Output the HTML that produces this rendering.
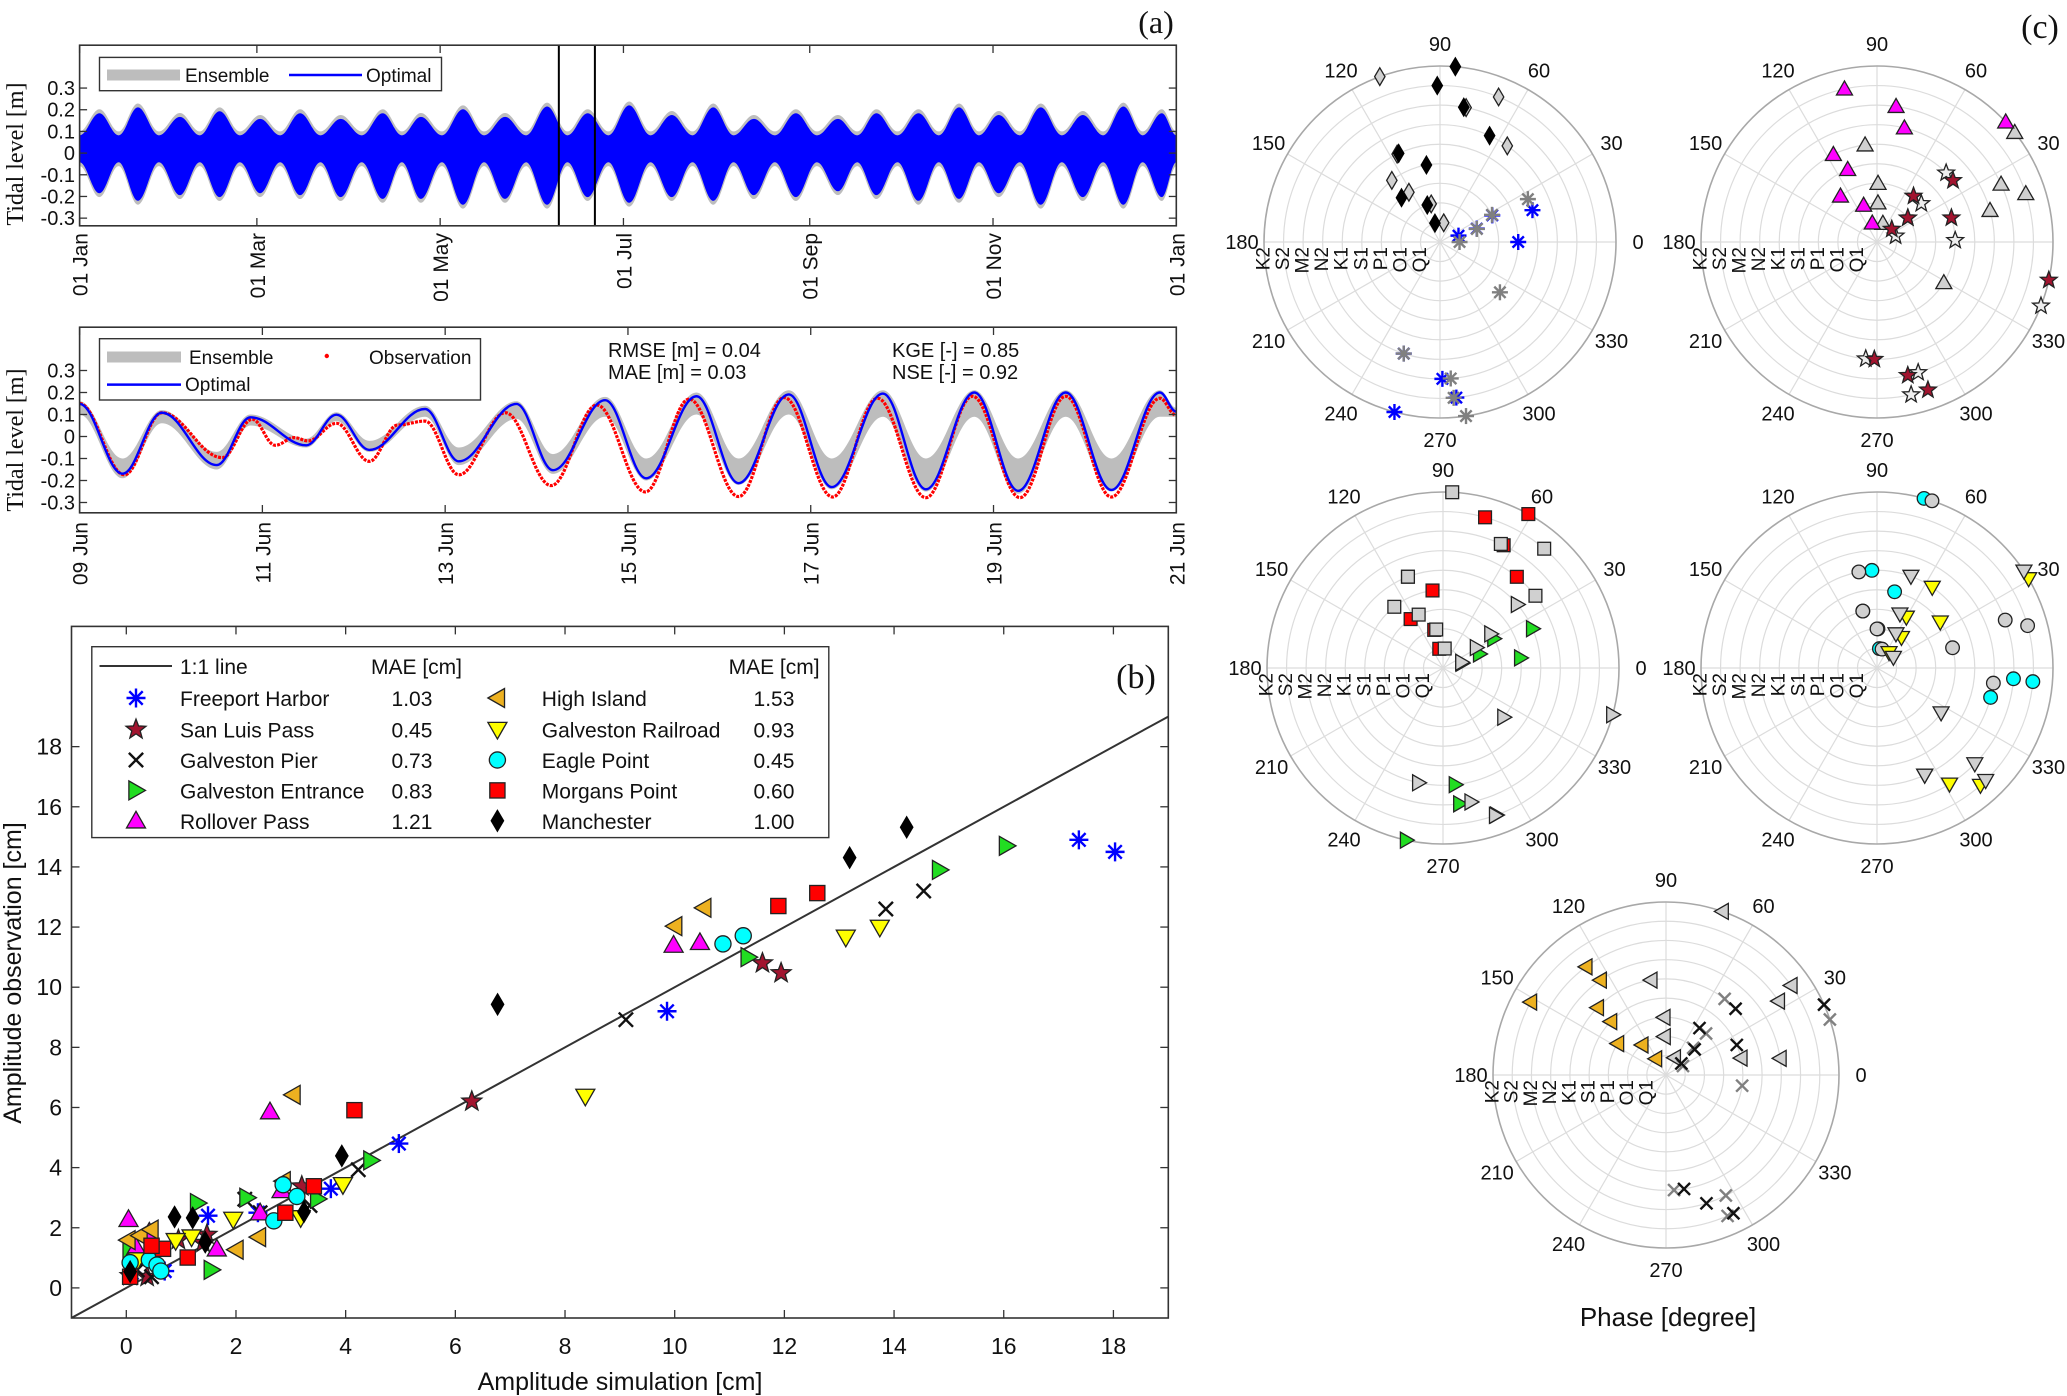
<!DOCTYPE html>
<html><head><meta charset="utf-8"><style>
html,body{margin:0;padding:0;background:#fff;}
svg{display:block;font-family:"Liberation Sans",Arial,sans-serif;}
</style></head><body>
<svg id="fig" xmlns="http://www.w3.org/2000/svg" width="2067" height="1396" viewBox="0 0 2067 1396">
<defs>
<clipPath id="clipA"><rect x="79.6" y="45.2" width="1096.7" height="180.6"/></clipPath>
<clipPath id="clipM"><rect x="79.6" y="327.2" width="1096.7" height="185.6"/></clipPath>
<clipPath id="clipB"><rect x="71.5" y="626.4" width="1096.8" height="691.6"/></clipPath>
</defs>
</svg>
<script>
// ---------- DATA: panel (a) top, yearly envelope (lobe peaks) ----------
const lobeDay=[6.6,19.4,33.4,46.6,60.1,73.4,86.9,100.9,113.6,127.6,141.6,155.6,169.1,182.9,197.1,210.9,224.4,238.4,252.4,265.2,279.2,292.7,305.9,319.9,333.9,347.4,360.2];
const lobeMax=[0.202,0.229,0.185,0.211,0.176,0.202,0.176,0.202,0.185,0.22,0.185,0.233,0.202,0.238,0.194,0.229,0.176,0.202,0.176,0.202,0.202,0.229,0.194,0.229,0.194,0.233,0.202];
const lobeMin=[-0.203,-0.238,-0.212,-0.221,-0.203,-0.212,-0.221,-0.229,-0.229,-0.256,-0.229,-0.256,-0.221,-0.247,-0.221,-0.238,-0.212,-0.221,-0.194,-0.212,-0.238,-0.229,-0.203,-0.256,-0.221,-0.256,-0.221];
const neckMax=0.1, neckMin=-0.06;
const yearTickDays=[0,59,120,181,243,304,365];
const yearTickLabels=["01 Jan","01 Mar","01 May","01 Jul","01 Sep","01 Nov","01 Jan"];
const zoomWindow=[159,171];
const levelTicks=[0.3,0.2,0.1,0,-0.1,-0.2,-0.3];
// ---------- DATA: panel (a) bottom, Jun 9 - Jun 21 ----------
const tOpt=[9.0,9.47,9.9,10.5,10.87,11.48,11.81,12.17,12.78,13.15,13.78,14.18,14.75,15.2,15.75,16.21,16.76,17.23,17.79,18.26,18.79,19.27,19.79,20.29,20.82,21.0];
const vOpt=[0.148,-0.169,0.108,-0.13,0.087,-0.04,0.099,-0.061,0.125,-0.113,0.148,-0.153,0.165,-0.19,0.183,-0.212,0.191,-0.23,0.195,-0.24,0.2,-0.247,0.2,-0.243,0.2,0.113];
const ensUp=[0.16,-0.1,0.12,-0.07,0.1,-0.01,0.11,-0.02,0.14,-0.05,0.16,-0.08,0.18,-0.1,0.2,-0.1,0.21,-0.1,0.21,-0.1,0.21,-0.1,0.21,-0.1,0.21,0.13];
const ensLo=[0.1,-0.19,0.06,-0.15,0.05,-0.05,0.07,-0.07,0.09,-0.13,0.08,-0.17,0.09,-0.2,0.1,-0.22,0.1,-0.24,0.09,-0.25,0.09,-0.26,0.09,-0.25,0.09,0.09];
const tObs=[9.0,9.49,9.9,10.56,10.89,11.14,11.35,11.5,11.81,12.17,12.48,12.78,13.15,13.66,14.16,14.66,15.19,15.67,16.21,16.71,17.24,17.73,18.26,18.77,19.29,19.79,20.29,20.82,21.0];
const vObs=[0.15,-0.174,0.108,-0.096,0.078,-0.04,-0.005,-0.02,0.06,-0.113,0.052,0.07,-0.174,0.108,-0.223,0.143,-0.252,0.17,-0.273,0.177,-0.275,0.174,-0.278,0.183,-0.278,0.183,-0.275,0.174,0.096];
const junTickDays=[9,11,13,15,17,19,21];
const junTickLabels=["09 Jun","11 Jun","13 Jun","15 Jun","17 Jun","19 Jun","21 Jun"];
// ---------- DATA: panel (b) scatter ----------
const stationNames=["Freeport Harbor","San Luis Pass","Galveston Pier","Galveston Entrance","Rollover Pass","High Island","Galveston Railroad","Eagle Point","Morgans Point","Manchester"];
const stationMAE=["1.03","0.45","0.73","0.83","1.21","1.53","0.93","0.45","0.60","1.00"];
const simFreeport=[17.37,18.03,9.86,4.97,3.73,1.49,2.4,0.7,0.1];
const obsFreeport=[14.9,14.5,9.2,4.8,3.3,2.4,2.5,0.56,0.5];
const simSanLuis=[6.3,11.6,11.94,0.95,1.47,0.38,3.2,1.4,0.07];
const obsSanLuis=[6.2,10.8,10.47,1.6,1.77,0.37,3.38,1.5,0.4];
const simPier=[14.54,13.85,9.11,4.23,3.35,2.44,0.2,0.46,2.16];
const obsPier=[13.2,12.6,8.92,3.93,2.74,2.5,0.6,0.37,2.95];
const simEntrance=[16.05,14.83,11.34,4.46,2.2,3.49,1.3,1.55,0.07];
const obsEntrance=[14.7,13.9,11.0,4.24,3.0,2.96,2.82,0.6,1.27];
const simRollover=[9.98,10.46,2.62,0.04,2.44,1.65,0.18,2.83,0.42];
const obsRollover=[11.4,11.49,5.86,2.28,2.5,1.3,1.35,3.24,1.86];
const simHigh=[10.0,10.53,3.04,0.03,0.25,0.45,2.0,2.41,2.86];
const obsHigh=[12.03,12.64,6.42,1.59,1.74,1.94,1.27,1.69,3.55];
const simRail=[8.37,13.12,13.74,3.95,1.95,1.19,3.18,0.21,0.9];
const obsRail=[6.37,11.66,11.99,3.43,2.28,1.69,2.33,0.93,1.57];
const simEagle=[10.88,11.25,2.86,3.11,2.69,0.07,0.42,0.56,0.63];
const obsEagle=[11.44,11.71,3.43,3.04,2.23,0.84,0.93,0.76,0.56];
const simMorgans=[11.89,12.6,4.16,3.42,2.9,1.12,0.67,0.46,0.07];
const obsMorgans=[12.7,13.13,5.91,3.38,2.5,1.01,1.3,1.4,0.37];
const simManch=[14.23,13.19,6.77,3.93,3.24,0.88,1.21,1.44,0.07];
const obsManch=[15.32,14.31,9.43,4.39,2.53,2.36,2.33,1.52,0.54];
const ampTicks=[0,2,4,6,8,10,12,14,16,18];
// ---------- DATA: panel (c) polar phases (ring 1..9 = Q1..K2) ----------
const constituents=["Q1","O1","P1","S1","K1","N2","M2","S2","K2"];
const phaseTicks=[0,30,60,90,120,150,180,210,240,270,300,330];
const manObs=[105,109,131,100,115,65,80,91,85];
const manSim=[79,103,122,128,116,55,79,68,110];
const freObs=[19,20,27,0,19,252,271,276,255];
const freSim=[0,19.5,27.6,320,26,252,274.5,275,278.5];
const rolObs=[104,110,128.5,112,116.5,76.5,82,102,43];
const rolSim=[72.5,88.6,89,328.7,97,15.6,25,18,38.5];
const slpObs=[41,38,51.5,18,39,268.7,283,289,347.5];
const slpSim=[18,38,41,1.2,45,264.5,287.5,282.6,338.7];
const morObs=[101,103,123.5,97.7,111,51,63.7,74.4,61];
const morSim=[85,100,114.5,128.5,111,38,65,49.7,87];
const entObs=[14,21,30,7.4,23.7,276,277,290,258];
const entSim=[17,31.5,35.5,321,40.5,258,281.8,289.6,344.6];
const eagObs=[83,88.6,104,77,93,345.5,355.5,355,74.5];
const eagSim=[75,90,104,15,100.7,352.6,20.5,15.7,71.8];
const rrObs=[52,51.3,60,36,55.6,294,302,311.4,30.5];
const rrSim=[33,61,67,325,69.7,294,315.6,314,33.4];
const hiObs=[122.6,128.7,147,136,135.5,124.7,126.5,151.7,null];
const hiSim=[64,92.6,92,12.7,99,8.3,33.3,35.6,71];
const gpObs=[37,41.8,54.5,23,43.6,279,287.5,296,24];
const gpSim=[28,45,46,352,52.4,274,296.4,293.6,18.7];

// ---------- helpers ----------
const NS="http://www.w3.org/2000/svg";
const svg=document.getElementById('fig');
function mk(tag,attrs,parent){const e=document.createElementNS(NS,tag);for(const k in attrs)e.setAttribute(k,attrs[k]);(parent||svg).appendChild(e);return e;}
function txt(s,x,y,size,attrs,parent){const e=mk('text',Object.assign({x:x,y:y,'font-size':size,fill:'#111'},attrs||{}),parent);e.textContent=s;return e;}
function smooth(pts,start){let d=start?('M'+pts[0][0]+','+pts[0][1]):('L'+pts[0][0]+','+pts[0][1]);
 for(let i=1;i<pts.length;i++){const [x0,y0]=pts[i-1],[x1,y1]=pts[i];const dx=(x1-x0)*0.37;d+=' C'+(x0+dx)+','+y0+' '+(x1-dx)+','+y1+' '+x1+','+y1;}return d;}

function marker(type,x,y,s,fill,stroke,g){const h=s/2;let e;
 if(type==='ast'){e=mk('g',{},g);[0,45,90,135].forEach(a=>{const r=a*Math.PI/180;mk('line',{x1:x-h*Math.cos(r),y1:y-h*Math.sin(r),x2:x+h*Math.cos(r),y2:y+h*Math.sin(r),stroke:fill,'stroke-width':2.4},e);});}
 else if(type==='x'){e=mk('g',{},g);mk('line',{x1:x-h*0.75,y1:y-h*0.75,x2:x+h*0.75,y2:y+h*0.75,stroke:fill,'stroke-width':2.4},e);mk('line',{x1:x-h*0.75,y1:y+h*0.75,x2:x+h*0.75,y2:y-h*0.75,stroke:fill,'stroke-width':2.4},e);}
 else if(type==='o'){e=mk('circle',{cx:x,cy:y,r:h*0.85,fill:fill,stroke:stroke,'stroke-width':1.3},g);}
 else if(type==='sq'){e=mk('rect',{x:x-h*0.8,y:y-h*0.8,width:s*0.8,height:s*0.8,fill:fill,stroke:stroke,'stroke-width':1.3},g);}
 else{let p;
  if(type==='d')p=[[0,-h*1.1],[h*0.65,0],[0,h*1.1],[-h*0.65,0]];
  else if(type==='tu')p=[[0,-h],[h,h*0.75],[-h,h*0.75]];
  else if(type==='td')p=[[0,h],[h,-h*0.75],[-h,-h*0.75]];
  else if(type==='tl')p=[[-h,0],[h*0.75,-h],[h*0.75,h]];
  else if(type==='tr')p=[[h,0],[-h*0.75,-h],[-h*0.75,h]];
  else if(type==='star'){p=[];for(let i=0;i<10;i++){const r=(i%2?0.42:1)*h*1.1,a=-Math.PI/2+i*Math.PI/5;p.push([r*Math.cos(a),r*Math.sin(a)]);}}
  e=mk('polygon',{points:p.map(q=>(x+q[0])+','+(y+q[1])).join(' '),fill:fill,stroke:stroke,'stroke-width':1.3},g);}
 return e;}

// ================= PANEL (a) TOP =================
const AL=79.6,AR=1176.3,AW=AR-AL;
const xa=d=>AL+d/365*AW, ya=v=>153.1-v*216.8;
const gA=mk('g',{});


function envPts(off,fromMax){const pts=[];const nk=fromMax?neckMax+off:neckMin-off;
 pts.push([xa(0),ya(nk)]);
 for(let i=0;i<lobeDay.length;i++){const v=fromMax?lobeMax[i]+off:lobeMin[i]-off;
  if(i>0)pts.push([xa((lobeDay[i-1]+lobeDay[i])/2),ya(nk)]);
  pts.push([xa(lobeDay[i]),ya(v)]);}
 pts.push([xa(365),ya(nk)]);return pts;}
function envArea(off,color,name){const up=envPts(off,true),lo=envPts(off,false).reverse();
 const p=mk('path',{d:smooth(up,true)+' '+smooth(lo,false)+' Z',fill:color,'clip-path':'url(#clipA)'},gA);
 
 }
envArea(0,'#bdbdbd','ensemble-band-year');
envArea(-0.018,'#0000ff','optimal-series-year');
zoomWindow.forEach(d=>{const l=mk('line',{x1:xa(d)+1.5,x2:xa(d)+1.5,y1:45.2,y2:225.8,stroke:'#000','stroke-width':2},gA);
 
 });
mk('rect',{x:AL,y:45.2,width:AW,height:180.6,fill:'none',stroke:'#333','stroke-width':1.6},gA);
levelTicks.forEach(v=>{const y=ya(v);mk('line',{x1:AL,x2:AL+7.5,y1:y,y2:y,stroke:'#333','stroke-width':1.3},gA);mk('line',{x1:AR,x2:AR-7.5,y1:y,y2:y,stroke:'#333','stroke-width':1.3},gA);
 const t=txt(v===0?'0':v.toFixed(1),75,y+7,20,{'text-anchor':'end'},gA);
 
 });
yearTickDays.forEach((d,i)=>{const x=xa(d);mk('line',{x1:x,x2:x,y1:225.8,y2:218,stroke:'#333','stroke-width':1.3},gA);mk('line',{x1:x,x2:x,y1:45.2,y2:53,stroke:'#333','stroke-width':1.3},gA);
 const t=txt(yearTickLabels[i],0,0,21,{'text-anchor':'end',transform:'translate('+(x+8)+',233) rotate(-90)'},gA);
 
 });
{const t=txt('Tidal level [m]',0,0,24,{'text-anchor':'middle','font-family':'Liberation Serif, serif',transform:'translate(23,154) rotate(-90)'},gA);
 
 }
{const lg=mk('g',{},gA);
 
 
 mk('rect',{x:99.5,y:57.4,width:342,height:33.3,fill:'#fff',stroke:'#333','stroke-width':1.4},lg);
 mk('line',{x1:107,x2:180,y1:75,y2:75,stroke:'#bdbdbd','stroke-width':11},lg);
 txt('Ensemble',185,82,19,{},lg);
 mk('line',{x1:289,x2:362,y1:75,y2:75,stroke:'#0000ff','stroke-width':2.5},lg);
 txt('Optimal',366,82,19,{},lg);}
{const t=txt('(a)',1156,33,32,{'text-anchor':'middle','font-family':'Liberation Serif, serif'});
 
 }

// ================= PANEL (a) BOTTOM =================
const xb=d=>AL+(d-9)/12*AW, yb=v=>436.5-v*220;
const gM=mk('g',{});


{const up=tOpt.map((t,i)=>[xb(t),yb(ensUp[i])]),lo=tOpt.map((t,i)=>[xb(t),yb(ensLo[i])]).reverse();
 const p=mk('path',{d:smooth(up,true)+' '+smooth(lo,false)+' Z',fill:'#bdbdbd','clip-path':'url(#clipM)'},gM);
 
 }
{const p=mk('path',{d:smooth(tObs.map((t,i)=>[xb(t),yb(vObs[i])]),true),fill:'none',stroke:'#ff0000','stroke-width':3.2,'stroke-dasharray':'3 1.2','clip-path':'url(#clipM)'},gM);
 
 }
{const p=mk('path',{d:smooth(tOpt.map((t,i)=>[xb(t),yb(vOpt[i])]),true),fill:'none',stroke:'#0000ff','stroke-width':2.4,'clip-path':'url(#clipM)'},gM);
 
 }
mk('rect',{x:AL,y:327.2,width:AW,height:185.6,fill:'none',stroke:'#333','stroke-width':1.6},gM);
levelTicks.forEach(v=>{const y=yb(v);mk('line',{x1:AL,x2:AL+7.5,y1:y,y2:y,stroke:'#333','stroke-width':1.3},gM);mk('line',{x1:AR,x2:AR-7.5,y1:y,y2:y,stroke:'#333','stroke-width':1.3},gM);
 const t=txt(v===0?'0':v.toFixed(1),75,y+7,20,{'text-anchor':'end'},gM);
 
 });
junTickDays.forEach((d,i)=>{const x=xb(d);mk('line',{x1:x,x2:x,y1:512.8,y2:505,stroke:'#333','stroke-width':1.3},gM);mk('line',{x1:x,x2:x,y1:327.2,y2:335,stroke:'#333','stroke-width':1.3},gM);
 const t=txt(junTickLabels[i],0,0,21,{'text-anchor':'end',transform:'translate('+(x+8)+',522) rotate(-90)'},gM);
 
 });
{const t=txt('Tidal level [m]',0,0,24,{'text-anchor':'middle','font-family':'Liberation Serif, serif',transform:'translate(23,440) rotate(-90)'},gM);
 
 }
{const lg=mk('g',{},gM);
 
 
 mk('rect',{x:99.5,y:338.7,width:381,height:61.3,fill:'#fff',stroke:'#333','stroke-width':1.4},lg);
 mk('line',{x1:107,x2:181,y1:357,y2:357,stroke:'#bdbdbd','stroke-width':11},lg);
 txt('Ensemble',189,364,19,{},lg);
 mk('circle',{cx:326.8,cy:356,r:2.2,fill:'#ff0000'},lg);
 txt('Observation',369,364,19,{},lg);
 mk('line',{x1:107,x2:181,y1:384.6,y2:384.6,stroke:'#0000ff','stroke-width':2.5},lg);
 txt('Optimal',185,391,19,{},lg);}
[['RMSE [m] = 0.04',608,357],['MAE [m] = 0.03',608,379],['KGE [-] = 0.85',892,357],['NSE [-] = 0.92',892,379]].forEach(a=>{
 const t=txt(a[0],a[1],a[2],20,{},gM);
 
 });

// ================= PANEL (b) =================
const xs=v=>126.3+v*54.84, ys=v=>1287.9-v*30.07;
const BL=71.5,BR=1168.3,BT=626.4,BB=1318;
const gB=mk('g',{});


{const l=mk('line',{x1:xs(-1),y1:ys(-1),x2:xs(19),y2:ys(19),stroke:'#333','stroke-width':2,'clip-path':'url(#clipB)'},gB);
 
 }
const series=[
 ['ast','#0000ff','#0000ff',simFreeport,obsFreeport],
 ['star','#a2142f','#222',simSanLuis,obsSanLuis],
 ['x','#111','#111',simPier,obsPier],
 ['tr','#22dd22','#222',simEntrance,obsEntrance],
 ['tu','#ff00ff','#222',simRollover,obsRollover],
 ['tl','#edb120','#222',simHigh,obsHigh],
 ['td','#ffff00','#222',simRail,obsRail],
 ['o','#00ffff','#222',simEagle,obsEagle],
 ['sq','#ff0000','#222',simMorgans,obsMorgans],
 ['d','#000','#000',simManch,obsManch]];
series.forEach((s,k)=>{s[3].forEach((v,i)=>{const e=marker(s[0],xs(v),ys(s[4][i]),19,s[1],s[2],gB);
 
 });});
mk('rect',{x:BL,y:BT,width:BR-BL,height:BB-BT,fill:'none',stroke:'#333','stroke-width':1.6},gB);
ampTicks.forEach(v=>{const x=xs(v),y=ys(v);
 mk('line',{x1:x,x2:x,y1:BB,y2:BB-8,stroke:'#333','stroke-width':1.3},gB);mk('line',{x1:x,x2:x,y1:BT,y2:BT+8,stroke:'#333','stroke-width':1.3},gB);
 mk('line',{x1:BL,x2:BL+8,y1:y,y2:y,stroke:'#333','stroke-width':1.3},gB);mk('line',{x1:BR,x2:BR-8,y1:y,y2:y,stroke:'#333','stroke-width':1.3},gB);
 const tx=txt(String(v),x,1354,23,{'text-anchor':'middle'},gB);
 
 
 const ty=txt(String(v),62,y+8,23,{'text-anchor':'end'},gB);
 
 });
{const t=txt('Amplitude simulation [cm]',620,1390,25,{'text-anchor':'middle'},gB);
 
 }
{const t=txt('Amplitude observation [cm]',0,0,25,{'text-anchor':'middle',transform:'translate(21,973) rotate(-90)'},gB);
 
 }
{const t=txt('(b)',1136,688,34,{'text-anchor':'middle','font-family':'Liberation Serif, serif'},gB);
 
 }
{const lg=mk('g',{},gB);
 
 
 mk('rect',{x:91.8,y:646.7,width:737,height:190.9,fill:'#fff',stroke:'#333','stroke-width':1.4},lg);
 mk('line',{x1:99.5,x2:172,y1:666,y2:666,stroke:'#333','stroke-width':2},lg);
 txt('1:1 line',180,674,21,{},lg);
 txt('MAE [cm]',371,674,21,{},lg);
 txt('MAE [cm]',728.6,674,21,{},lg);
 const rowsY=[698,729.5,760,790.4,820.8];
 series.forEach((s,k)=>{const col=k<5?0:1,r=k%5,y=rowsY[r];
  const e=marker(s[0],col?497.4:136,y,19,s[1],s[2],lg);
  
  
  const n=txt(stationNames[k],col?541.8:180,y+8,21,{},lg);
  
  
  const m=txt(stationMAE[k],col?794.4:432.4,y+8,21,{'text-anchor':'end'},lg);
  
  });}

// ================= PANEL (c) POLAR =================
function polar(cx,cy,R,name,sets){const g=mk('g',{});
 
 
 for(let k=1;k<=8;k++)mk('circle',{cx:cx,cy:cy,r:k*R/9,fill:'none',stroke:'#dcdcdc','stroke-width':1.2},g);
 phaseTicks.forEach(a=>{const r=a*Math.PI/180;mk('line',{x1:cx,y1:cy,x2:cx+R*Math.cos(r),y2:cy-R*Math.sin(r),stroke:'#dcdcdc','stroke-width':1.2},g);});
 mk('circle',{cx:cx,cy:cy,r:R,fill:'none',stroke:'#a8a8a8','stroke-width':1.6},g);
 phaseTicks.forEach(a=>{const r=a*Math.PI/180,rr=R+22;
  const t=txt(String(a),cx+rr*Math.cos(r),cy-rr*Math.sin(r)+7,20,{'text-anchor':'middle'},g);
  
  });
 constituents.forEach((c,i)=>{const x=cx-(i+1)*R/9;
  const t=txt(c,0,0,19,{'text-anchor':'end','dominant-baseline':'central',transform:'translate('+x+','+(cy+5)+') rotate(-90)'},g);
  
  });
 sets.forEach(s=>{s.data.forEach((ph,i)=>{if(ph===null)return;const r=(i+1)*R/9,a=ph*Math.PI/180;
  const e=marker(s.type,cx+r*Math.cos(a),cy-r*Math.sin(a),s.size||16,s.fill,s.stroke,g);
  
  });});
 return g;}
const G='#d0d0d0';
polar(1440,242,176,'polar-manchester-freeport',[
 {type:'d',fill:G,stroke:'#222',data:manSim,name:'manchester-sim-point'},
 {type:'d',fill:'#000',stroke:'#000',data:manObs,name:'manchester-obs-point'},
 {type:'ast',fill:'#0000ff',stroke:'#0000ff',data:freObs,name:'freeport-obs-point'},
 {type:'ast',fill:'#808080',stroke:'#808080',data:freSim,name:'freeport-sim-point'}]);
polar(1877,242,176,'polar-rollover-sanluis',[
 {type:'tu',fill:G,stroke:'#222',data:rolSim,name:'rollover-sim-point'},
 {type:'tu',fill:'#ff00ff',stroke:'#222',data:rolObs,name:'rollover-obs-point'},
 {type:'star',fill:'#eeeeee',stroke:'#222',data:slpSim,name:'sanluis-sim-point'},
 {type:'star',fill:'#a2142f',stroke:'#222',data:slpObs,name:'sanluis-obs-point'}]);
polar(1443,668,176,'polar-morgans-entrance',[
 {type:'sq',fill:'#ff0000',stroke:'#222',data:morObs,name:'morgans-obs-point'},
 {type:'sq',fill:G,stroke:'#222',data:morSim,name:'morgans-sim-point'},
 {type:'tr',fill:'#22dd22',stroke:'#222',data:entObs,name:'entrance-obs-point'},
 {type:'tr',fill:G,stroke:'#222',data:entSim,name:'entrance-sim-point'}]);
polar(1877,668,176,'polar-eagle-railroad',[
 {type:'o',fill:'#00ffff',stroke:'#222',data:eagObs,name:'eagle-obs-point'},
 {type:'o',fill:G,stroke:'#222',data:eagSim,name:'eagle-sim-point'},
 {type:'td',fill:'#ffff00',stroke:'#222',data:rrObs,name:'railroad-obs-point'},
 {type:'td',fill:G,stroke:'#222',data:rrSim,name:'railroad-sim-point'}]);
polar(1666,1075,173,'polar-highisland-pier',[
 {type:'tl',fill:'#edb120',stroke:'#222',data:hiObs,name:'highisland-obs-point'},
 {type:'tl',fill:G,stroke:'#222',data:hiSim,name:'highisland-sim-point'},
 {type:'x',fill:'#808080',stroke:'#808080',data:gpSim,name:'pier-sim-point'},
 {type:'x',fill:'#111',stroke:'#111',data:gpObs,name:'pier-obs-point'}]);
{const t=txt('Phase [degree]',1668,1326,26,{'text-anchor':'middle'});
 
 }
{const t=txt('(c)',2040,38,34,{'text-anchor':'middle','font-family':'Liberation Serif, serif'});
 
 }
</script>
</body></html>
